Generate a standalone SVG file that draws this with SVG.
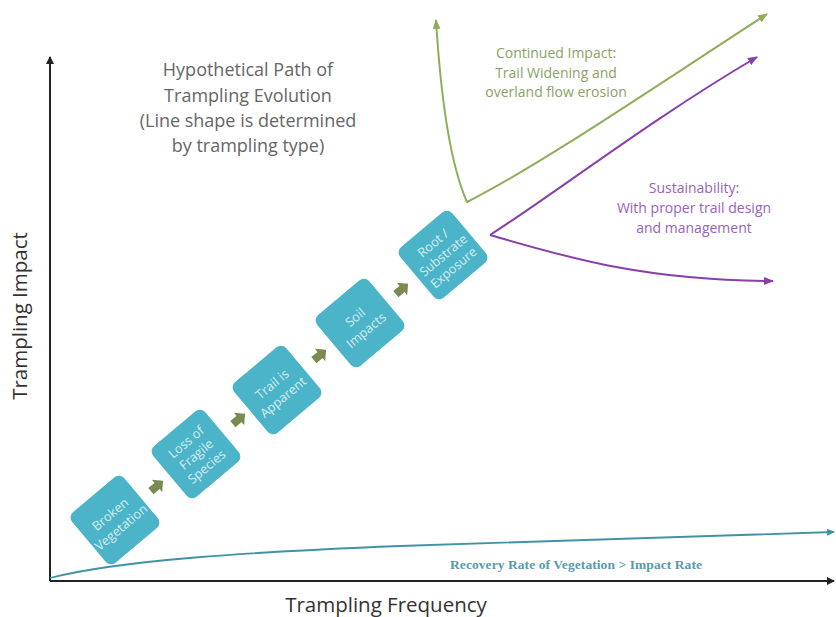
<svg xmlns="http://www.w3.org/2000/svg" width="836" height="617" viewBox="0 0 836 617">
<style>
.box{fill:#4cb4c8;}
.bt{font-family:"Open Sans","Liberation Sans",sans-serif;font-size:12.8px;fill:#d4edf2;text-anchor:middle;}
.step{fill:#7b8a50;}
.title{font-family:"Open Sans","Liberation Sans",sans-serif;font-size:18px;fill:#666;text-anchor:middle;}
.gt{font-family:"Open Sans","Liberation Sans",sans-serif;font-size:14px;fill:#8aa266;text-anchor:middle;}
.pt{font-family:"Open Sans","Liberation Sans",sans-serif;font-size:14px;fill:#9a62b8;text-anchor:middle;}
.ax{font-family:"Open Sans","Liberation Sans",sans-serif;font-size:20.5px;fill:#333;text-anchor:middle;}
</style>
<defs>
<marker id="ak" markerWidth="8" markerHeight="8" refX="7" refY="4" orient="auto" markerUnits="userSpaceOnUse"><path d="M0,0 L8,4 L0,8 Z" fill="#222"/></marker>
<marker id="ag" markerWidth="10" markerHeight="8" refX="9" refY="4" orient="auto-start-reverse" markerUnits="userSpaceOnUse"><path d="M0,0 L10,4 L0,8 Z" fill="#8fae5a"/></marker>
<marker id="ap" markerWidth="10" markerHeight="8" refX="9" refY="4" orient="auto" markerUnits="userSpaceOnUse"><path d="M0,0 L10,4 L0,8 Z" fill="#8a3fa8"/></marker>
<marker id="at" markerWidth="8" markerHeight="7" refX="7" refY="3.5" orient="auto" markerUnits="userSpaceOnUse"><path d="M0,0 L8,3.5 L0,7 Z" fill="#3f93a5"/></marker>
<path id="stp" d="M-8,-4 L0,-4 L0,-8 L8,0 L0,8 L0,4 L-8,4 Z"/>
</defs>
<rect width="836" height="617" fill="#fff"/>
<g id="connectors">
<line x1="50" y1="581" x2="50" y2="57" stroke="#222" stroke-width="2" marker-end="url(#ak)"/>
<line x1="50" y1="581" x2="834" y2="581" stroke="#222" stroke-width="2" marker-end="url(#ak)"/>
<path d="M50,578 C120,560 250,552 400,546 S700,536 834,532" fill="none" stroke="#3f93a5" stroke-width="1.8" marker-end="url(#at)"/>
<path d="M436,20 Q444,150 467,202 C540,165 650,90 767,14" fill="none" stroke="#8fae5a" stroke-width="2" marker-start="url(#ag)" marker-end="url(#ag)"/>
<path d="M490,235 C560,190 650,120 757,57" fill="none" stroke="#8a3fa8" stroke-width="2" marker-end="url(#ap)"/>
<path d="M490,235 C560,255 640,281 773,281" fill="none" stroke="#8a3fa8" stroke-width="2" marker-end="url(#ap)"/>
<g class="step">
<use href="#stp" transform="translate(157,486) rotate(-40)"/>
<use href="#stp" transform="translate(239,419) rotate(-40)"/>
<use href="#stp" transform="translate(320,355) rotate(-40)"/>
<use href="#stp" transform="translate(402,289) rotate(-40)"/>
</g>
</g>
<g id="n1" transform="translate(115,520) rotate(-40)">
<rect class="box" x="-34" y="-33" width="68" height="66" rx="7"/>
<text class="bt" y="-3">Broken</text><text class="bt" y="14">Vegetation</text>
</g>
<g id="n2" transform="translate(196,454) rotate(-40)">
<rect class="box" x="-34" y="-33" width="68" height="66" rx="7"/>
<text class="bt" y="-11">Loss of</text><text class="bt" y="5">Fragile</text><text class="bt" y="21">Species</text>
</g>
<g id="n3" transform="translate(277,390) rotate(-40)">
<rect class="box" x="-34" y="-33" width="68" height="66" rx="7"/>
<text class="bt" y="-3">Trail is</text><text class="bt" y="14">Apparent</text>
</g>
<g id="n4" transform="translate(360,323) rotate(-40)">
<rect class="box" x="-34" y="-33" width="68" height="66" rx="7"/>
<text class="bt" y="-3">Soil</text><text class="bt" y="14">Impacts</text>
</g>
<g id="n5" transform="translate(443,255) rotate(-40)">
<rect class="box" x="-34" y="-33" width="68" height="66" rx="7"/>
<text class="bt" y="-11">Root /</text><text class="bt" y="5">Substrate</text><text class="bt" y="21">Exposure</text>
</g>
<g id="title">
<text class="title" x="248" y="76">Hypothetical Path of</text>
<text class="title" x="248" y="102">Trampling Evolution</text>
<text class="title" x="248" y="127">(Line shape is determined</text>
<text class="title" x="248" y="152">by trampling type)</text>
</g>
<g id="continued">
<text class="gt" x="556" y="58">Continued Impact:</text>
<text class="gt" x="556" y="78">Trail Widening and</text>
<text class="gt" x="556" y="97">overland flow erosion</text>
</g>
<g id="sustain">
<text class="pt" x="694" y="193">Sustainability:</text>
<text class="pt" x="694" y="213">With proper trail design</text>
<text class="pt" x="694" y="233">and management</text>
</g>
<text x="576" y="569" font-family="'Liberation Serif',serif" font-size="13.5" font-weight="bold" fill="#5a9aab" text-anchor="middle" textLength="252">Recovery Rate of Vegetation &gt; Impact Rate</text>
<text class="ax" x="386" y="612">Trampling Frequency</text>
<text class="ax" transform="translate(27,316) rotate(-90)">Trampling Impact</text>
</svg>
